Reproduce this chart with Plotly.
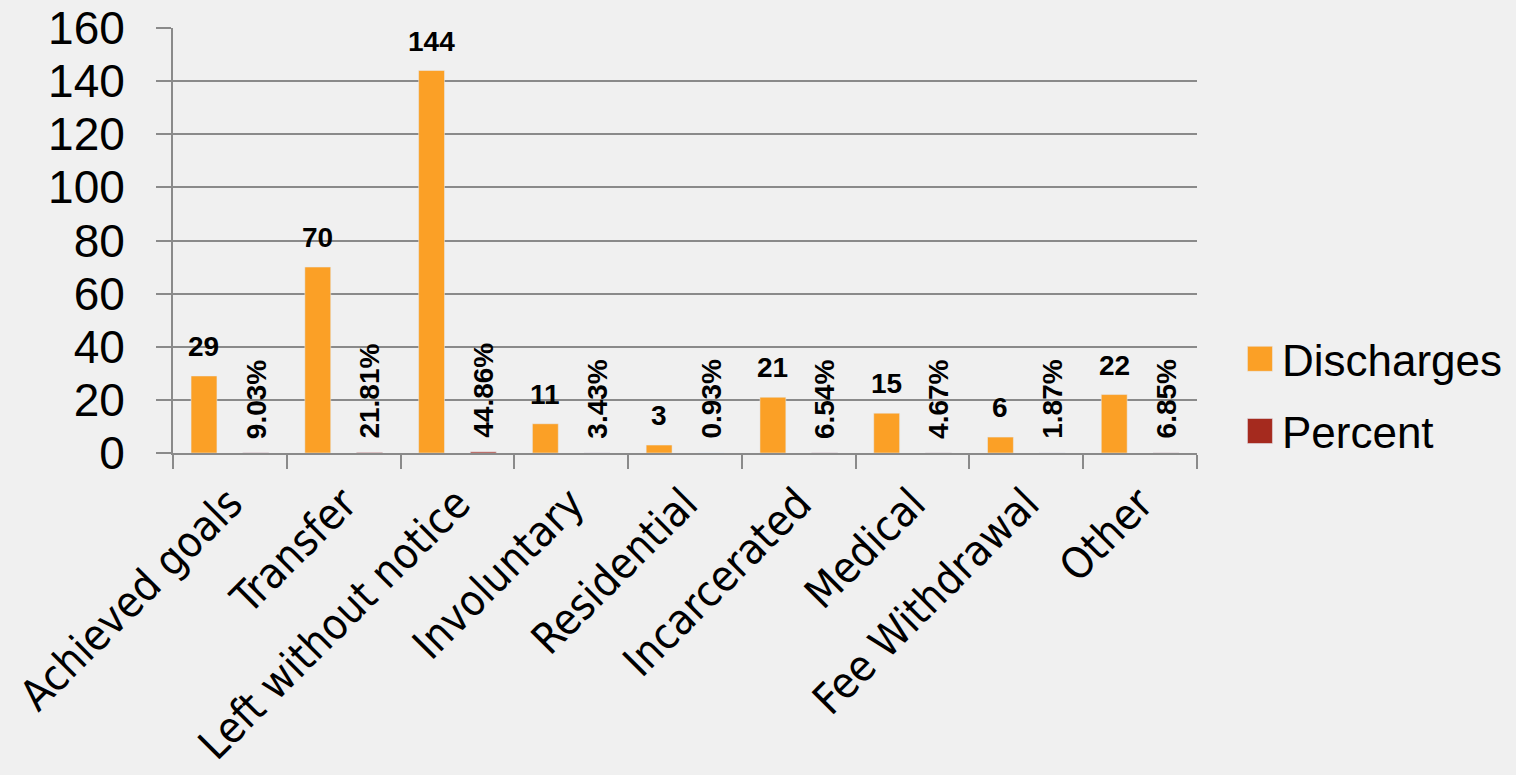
import plotly.graph_objects as go

categories = ["Achieved goals", "Transfer", "Left without notice", "Involuntary",
              "Residential", "Incarcerated", "Medical", "Fee Withdrawal", "Other"]
discharges = [29, 70, 144, 11, 3, 21, 15, 6, 22]
percent = [0.0903, 0.2181, 0.4486, 0.0343, 0.0093, 0.0654, 0.0467, 0.0187, 0.0685]
y_ticks = [0, 20, 40, 60, 80, 100, 120, 140, 160]

ORANGE = "#FBA026"
RED = "#A52A1E"
GRID = "#8a8a8a"
BG = "#f0f0f0"
LABEL_FONT = dict(family="Liberation Sans Narrow, Arial Narrow, Liberation Sans", size=28, color="#000000")

fig = go.Figure()
fig.add_trace(go.Bar(x=categories, y=discharges, name="Discharges", legendgroup="d",
                     marker=dict(color=ORANGE), hoverinfo="x+y"))
fig.add_trace(go.Bar(x=categories, y=percent, name="Percent", legendgroup="p",
                     marker=dict(color=RED), hoverinfo="x+y"))

annotations = []
for c, v in zip(categories, discharges):
    annotations.append(dict(x=c, y=v, xref="x", yref="y", text=f"<b>{v}</b>",
                            showarrow=False, xanchor="center", yanchor="bottom",
                            xshift=-26, yshift=12, font=LABEL_FONT))
for c, p in zip(categories, percent):
    annotations.append(dict(x=c, y=p, xref="x", yref="y", text=f"<b>{p*100:.2f}%</b>",
                            showarrow=False, xanchor="center", yanchor="bottom",
                            textangle=-90, xshift=26, yshift=12, font=LABEL_FONT))

fig.update_layout(
    width=1516, height=775, autosize=False,
    paper_bgcolor=BG, plot_bgcolor=BG,
    margin=dict(l=173, r=319, t=28, b=322, autoexpand=False),
    barmode="group", bargap=0.09, bargroupgap=0.5,
    showlegend=True,
    legend=dict(x=1.04, y=0.136, xanchor="left", yanchor="middle",
                traceorder="grouped", tracegroupgap=12,
                font=dict(family="Liberation Sans, Arial", size=44, color="#000000"),
                bgcolor="rgba(0,0,0,0)", itemwidth=34),
    annotations=annotations,
    xaxis=dict(
        type="category", tickangle=-45, tickson="boundaries", automargin=False,
        ticks="outside", ticklen=14, tickwidth=2, tickcolor=GRID,
        showline=True, linecolor=GRID, linewidth=2, showgrid=False,
        ticklabelstandoff=6,
        tickfont=dict(family="DejaVu Sans Condensed, DejaVu Sans", size=43, color="#000000"),
    ),
    yaxis=dict(
        range=[0, 160], tickmode="array", tickvals=y_ticks, automargin=False,
        ticks="outside", ticklen=15, tickwidth=2, tickcolor=GRID,
        showline=True, linecolor=GRID, linewidth=2,
        showgrid=True, gridcolor=GRID, gridwidth=2, zeroline=False,
        ticklabelstandoff=22,
        tickfont=dict(family="Liberation Sans, Arial", size=46, color="#000000"),
    ),
)

post = (
    "document.body.style.margin='0';"
    "document.body.style.background='%s';"
    "document.querySelectorAll('.legendpoints path').forEach(function(p){"
    "p.setAttribute('d','M12.5,12.5H-12.5V-12.5H12.5Z');});" % BG
)
fig.write_html("out.html", post_script=post, config={"displayModeBar": False})
